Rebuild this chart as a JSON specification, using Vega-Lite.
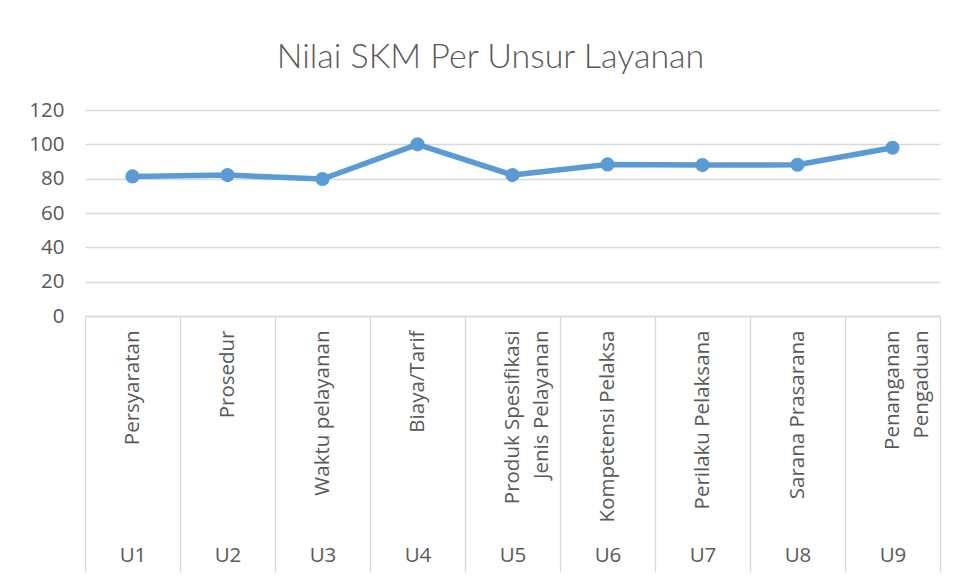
{
  "$schema": "https://vega.github.io/schema/vega-lite/v6.json",
  "autosize": {"type": "none"},
  "width": 855,
  "height": 206,
  "padding": {"left": 85, "top": 110, "right": 16, "bottom": 264},
  "background": "white",
  "config": {
    "view": {"stroke": null},
    "font": "Open Sans",
    "axis": {"labelFont": "Open Sans", "labelColor": "#595959", "labelFontSize": 20.5}
  },
  "title": {
    "text": "Nilai SKM Per Unsur Layanan",
    "font": "Lato",
    "fontSize": 34,
    "fontWeight": 300,
    "color": "#595959",
    "anchor": "middle",
    "baseline": "bottom",
    "offset": -9,
    "dx": -22
  },
  "data": {
    "values": [
      {"kode": "U1", "unsur": "Persyaratan", "nilai": 81.3},
      {"kode": "U2", "unsur": "Prosedur", "nilai": 82.1},
      {"kode": "U3", "unsur": "Waktu pelayanan", "nilai": 79.8},
      {"kode": "U4", "unsur": "Biaya/Tarif", "nilai": 100},
      {"kode": "U5", "unsur": "Produk Spesifikasi Jenis Pelayanan", "nilai": 82.1},
      {"kode": "U6", "unsur": "Kompetensi Pelaksa", "nilai": 88.3},
      {"kode": "U7", "unsur": "Perilaku Pelaksana", "nilai": 87.9},
      {"kode": "U8", "unsur": "Sarana Prasarana", "nilai": 88.1},
      {"kode": "U9", "unsur": "Penanganan Pengaduan", "nilai": 98.0}
    ]
  },
  "encoding": {
    "y": {
      "field": "nilai",
      "type": "quantitative",
      "scale": {"domain": [0, 120], "nice": false},
      "axis": {
        "title": null,
        "values": [0, 20, 40, 60, 80, 100, 120],
        "domain": false,
        "ticks": false,
        "labelPadding": 21,
        "grid": true,
        "gridColor": "#d9d9d9",
        "gridWidth": 1.3
      }
    }
  },
  "layer": [
    {
      "mark": {"type": "line", "color": "#5b9bd5", "strokeWidth": 5.5, "strokeJoin": "round", "strokeCap": "round"},
      "encoding": {
        "x": {
          "field": "unsur",
          "type": "nominal",
          "sort": null,
          "bandPosition": 0.5,
          "scale": {"type": "band", "paddingInner": 0, "paddingOuter": 0},
          "axis": {
            "title": null,
            "orient": "bottom",
            "labelAngle": 270,
            "labelAlign": "right",
            "labelBaseline": "middle",
            "labelPadding": 14,
            "labelLimit": 400,
            "labelLineHeight": 29,
            "ticks": false,
            "domain": false,
            "grid": false,
            "labelExpr": "datum.label == 'Produk Spesifikasi Jenis Pelayanan' ? ['Produk Spesifikasi', 'Jenis Pelayanan'] : datum.label == 'Penanganan Pengaduan' ? ['Penanganan', 'Pengaduan'] : datum.label"
          }
        }
      }
    },
    {
      "mark": {"type": "point", "filled": true, "opacity": 1, "color": "#5b9bd5", "size": 200},
      "encoding": {
        "x": {
          "field": "kode",
          "type": "nominal",
          "sort": null,
          "bandPosition": 0.5,
          "scale": {"type": "band", "paddingInner": 0, "paddingOuter": 0},
          "axis": {
            "title": null,
            "orient": "bottom",
            "labelAngle": 0,
            "labelAlign": "center",
            "labelBaseline": "top",
            "labelPadding": -27,
            "tickSize": 256,
            "tickBand": "extent",
            "tickColor": "#d9d9d9",
            "tickWidth": 1.3,
            "domain": true,
            "domainColor": "#d9d9d9",
            "domainWidth": 1.3,
            "grid": false
          }
        }
      }
    }
  ],
  "resolve": {"scale": {"x": "independent"}, "axis": {"x": "independent"}}
}
